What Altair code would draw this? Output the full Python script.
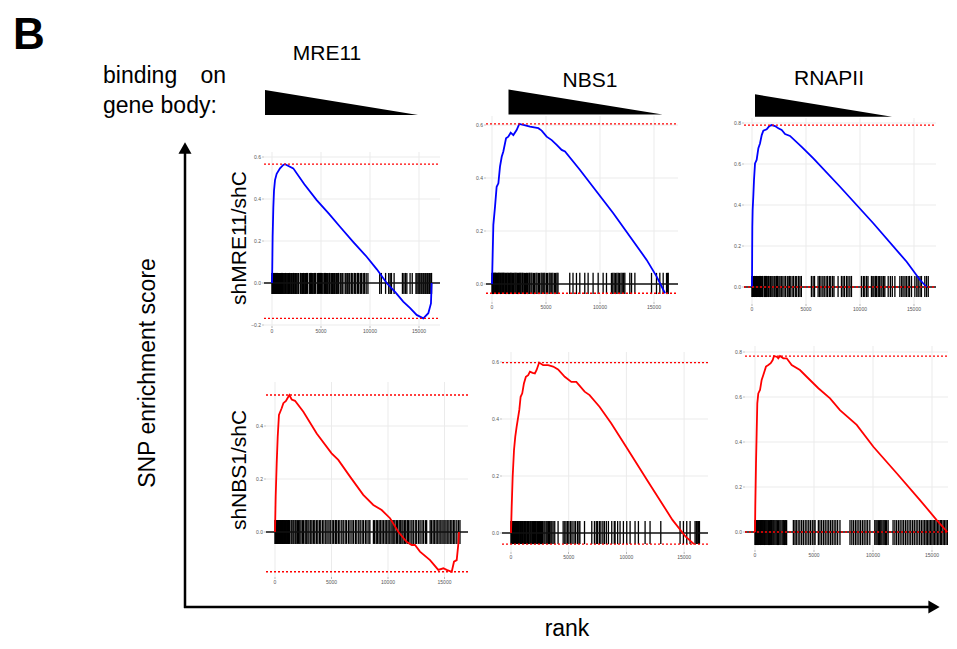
import altair as alt
import pandas as pd

W, H = 941, 633
M = 8  # page margin
FONT = "Liberation Sans"

# ------------------------------------------------------------------ data
XTICKS = [0, 5000, 10000, 15000]
COL_LABELS = ["MRE11", "NBS1", "RNAPII"]
ROW_LABELS = ["shMRE11/shC", "shNBS1/shC"]
HEADER_LINES = ["binding", "on", "gene body:"]
AXIS_LABELS = ["SNP enrichment score", "rank"]
PANEL_LETTER = ["B"]

# shMRE11/shC, MRE11
P1_RANK = [0, 30, 65, 136, 204, 306, 476, 816, 1150, 1330, 2170, 3300, 4560, 5800, 6940, 8300, 9660,
           10700, 11700, 12600, 13390, 14100, 14760, 15440, 15950, 16220, 16290]
P1_ES = [0, 0.08, 0.22, 0.36, 0.44, 0.49, 0.52, 0.546, 0.562, 0.566, 0.546, 0.47, 0.395, 0.33, 0.268,
         0.195, 0.125, 0.065, 0.0, -0.045, -0.089, -0.12, -0.152, -0.168, -0.144, -0.097, 0.0]
P1_HITS = [0, 35, 70, 110, 150, 190, 240, 280, 330, 370, 420, 470, 520, 570, 630, 680, 740, 790, 850, 910,
           960, 1020, 1080, 1150, 1230, 1300, 1390, 1450, 1540, 1610, 1700, 1790, 1850, 1940, 2010, 2120,
           2190, 2270, 2380, 2450, 2530, 2640, 2720, 2900, 2970, 3060, 3130, 3210, 3290, 3390, 3440, 3530,
           3610, 3800, 3880, 3940, 4030, 4110, 4190, 4290, 4340, 4430, 4610, 4670, 4760, 4840, 4960, 5040,
           5130, 5290, 5370, 5460, 5540, 5630, 5690, 5810, 5870, 6010, 6090, 6190, 6250, 6360, 6440, 6560,
           6610, 6710, 6790, 6960, 7040, 7160, 7240, 7460, 7540, 7660, 7740, 7860, 7940, 8110, 8240, 8410,
           8540, 8710, 8840, 9010, 9140, 9310, 9440, 9610, 9790, 10990, 11160, 11590, 11910, 12060, 12190,
           12460, 13310, 13460, 13610, 13760, 14090, 14310, 14690, 14790, 14910, 15010, 15090, 15210, 15290,
           15410, 15490, 15610, 15690, 15810, 15890, 16010, 16090, 16210, 16280]
P1_YTICKS = [-0.2, 0.0, 0.2, 0.4, 0.6]

# shMRE11/shC, NBS1
P2_RANK = [0, 125, 280, 430, 590, 740, 900, 1050, 1300, 1510, 1730, 1975, 2280, 2530, 2900, 3520, 4290,
           4600, 5060, 5530, 5990, 6450, 6760, 8150, 11230, 14320, 15250, 16020]
P2_ES = [0, 0.223, 0.292, 0.367, 0.38, 0.443, 0.48, 0.5, 0.55, 0.556, 0.571, 0.562, 0.581, 0.604, 0.6,
         0.594, 0.588, 0.579, 0.556, 0.543, 0.525, 0.506, 0.5, 0.43, 0.267, 0.091, 0.028, -0.035]
P2_HITS = [0, 45, 95, 150, 195, 260, 310, 380, 430, 500, 550, 620, 670, 740, 800, 850, 920, 990, 1050,
           1110, 1190, 1250, 1330, 1390, 1470, 1530, 1610, 1690, 1750, 1830, 1890, 1980, 2050, 2140, 2210,
           2300, 2370, 2460, 2530, 2620, 2700, 2810, 2890, 3010, 3090, 3210, 3290, 3410, 3490, 3610, 3700,
           3830, 3930, 4070, 4170, 4310, 4410, 4550, 4650, 4790, 4890, 5040, 5140, 5290, 5390, 5530, 5640,
           5790, 5890, 6010, 6110, 7200, 7500, 7820, 8130, 8590, 8900, 9360, 9830, 10290, 10600, 11060,
           11180, 11310, 11430, 11560, 11690, 11800, 11940, 12060, 12190, 12300, 12760, 12920, 13230,
           14770, 15230, 15540, 15850, 16160, 16250, 16320]
P2_YTICKS = [0.0, 0.2, 0.4, 0.6]

# shMRE11/shC, RNAPII
P3_RANK = [0, 15, 30, 60, 120, 185, 280, 430, 590, 740, 900, 1050, 1360, 1600, 1820, 2130, 2440, 2750,
           3060, 3520, 4600, 5680, 8150, 11230, 14320, 15560, 16170]
P3_ES = [0, 0.164, 0.294, 0.376, 0.44, 0.522, 0.603, 0.62, 0.677, 0.7, 0.741, 0.762, 0.769, 0.785, 0.79,
         0.785, 0.774, 0.766, 0.746, 0.737, 0.684, 0.628, 0.489, 0.311, 0.123, 0.034, 0.0]
P3_HITS = [0, 35, 75, 115, 160, 200, 245, 290, 340, 385, 430, 480, 530, 580, 630, 690, 740, 800, 850, 910,
           960, 1020, 1170, 1260, 1340, 1460, 1540, 1660, 1730, 1840, 1940, 2060, 2140, 2270, 2360, 2490,
           2590, 2710, 2790, 2960, 3090, 3260, 3340, 3460, 3540, 3710, 3840, 4010, 4140, 4310, 4440, 4570,
           5500, 5660, 5790, 6120, 6260, 6390, 6560, 6690, 6860, 6990, 7160, 7290, 7460, 7590, 7970, 8280,
           8430, 8570, 8760, 8890, 9060, 9210, 10130, 10310, 10440, 10610, 10740, 11060, 11190, 11290,
           11430, 11540, 11690, 11790, 11940, 12040, 12190, 12300, 12610, 12810, 12990, 13230, 13690,
           13860, 13990, 14160, 14290, 14460, 14590, 14770, 15080, 15260, 15390, 15560, 15690, 16000,
           16160, 16320]
P3_YTICKS = [0.0, 0.2, 0.4, 0.6, 0.8]

# shNBS1/shC, MRE11
P4_RANK = [0, 60, 150, 240, 350, 590, 740, 970, 1090, 1270, 1480, 1770, 2510, 3690, 5010, 5600, 6640,
           7810, 8700, 9440, 10180, 10910, 11650, 12100, 12390, 12830, 13720, 14450, 14900, 15190, 15640,
           15840, 16080, 16230, 16280]
P4_ES = [0, 0.133, 0.259, 0.36, 0.442, 0.467, 0.486, 0.495, 0.504, 0.517, 0.5, 0.495, 0.454, 0.372,
         0.297, 0.272, 0.209, 0.14, 0.102, 0.083, 0.052, 0.001, -0.037, -0.049, -0.049, -0.074, -0.106,
         -0.143, -0.137, -0.143, -0.15, -0.112, -0.106, -0.043, 0.0]
P4_HITS = [0, 40, 85, 125, 165, 210, 250, 300, 345, 390, 440, 490, 530, 580, 630, 680, 730, 780, 830, 880,
           930, 990, 1040, 1100, 1150, 1210, 1270, 1330, 1480, 1590, 1670, 1790, 1870, 1990, 2070, 2190,
           2300, 2430, 2530, 2670, 2770, 2910, 3010, 3160, 3270, 3410, 3520, 3670, 3790, 3940, 4050, 4210,
           4330, 4490, 4610, 4770, 4890, 5060, 5190, 5340, 5460, 5610, 5740, 5910, 6040, 6210, 6340, 6510,
           6640, 6810, 6940, 7110, 7240, 7410, 7540, 7710, 7840, 8010, 8140, 8310, 8400, 8710, 8810, 8960,
           9070, 9210, 9320, 9470, 9590, 9740, 9850, 10000, 10110, 10260, 10370, 10510, 10610, 10750,
           10850, 10990, 11090, 11230, 11330, 11470, 11570, 11710, 11810, 11950, 12110, 12240, 12410,
           12540, 12710, 12840, 13010, 13140, 13310, 13420, 13730, 13840, 13990, 14100, 14250, 14360,
           14510, 14620, 14770, 14880, 15030, 15140, 15290, 15400, 15550, 15660, 15810, 15920, 16090,
           16240, 16370]
P4_YTICKS = [0.0, 0.2, 0.4]

# shNBS1/shC, NBS1
P5_RANK = [0, 60, 145, 260, 370, 490, 720, 835, 975, 1120, 1290, 1490, 1640, 1870, 2070, 2220, 2440,
           2785, 3220, 3650, 4080, 4660, 5230, 5660, 6380, 6810, 7670, 8680, 9975, 11980, 13990, 15140,
           15860]
P5_ES = [0, 0.092, 0.198, 0.291, 0.338, 0.373, 0.432, 0.478, 0.49, 0.525, 0.548, 0.554, 0.566, 0.562,
         0.56, 0.572, 0.598, 0.589, 0.589, 0.584, 0.574, 0.548, 0.53, 0.53, 0.496, 0.484, 0.443, 0.385,
         0.303, 0.174, 0.046, -0.013, -0.039]
P5_HITS = [0, 40, 75, 120, 155, 200, 235, 280, 315, 360, 395, 450, 490, 550, 590, 650, 690, 760, 810, 880,
           930, 1000, 1050, 1120, 1170, 1240, 1290, 1370, 1430, 1510, 1570, 1650, 1710, 1800, 1870, 1960,
           2030, 2120, 2190, 2300, 2390, 2480, 2550, 2650, 2740, 2850, 2940, 3050, 3140, 3250, 3340, 3450,
           3540, 3650, 3790, 4080, 4520, 4660, 4770, 4910, 5020, 5170, 5290, 5460, 5590, 5760, 5890, 5970,
           6370, 7000, 7230, 7390, 7510, 7670, 7790, 7960, 8090, 8260, 8440, 8730, 8950, 9020, 9240, 9450,
           9740, 10030, 10320, 10750, 11040, 11620, 12050, 12980, 14650, 14940, 15230, 15520, 15950,
           16060, 16140, 16250, 16330]
P5_YTICKS = [0.0, 0.2, 0.4, 0.6]

# shNBS1/shC, RNAPII
P6_RANK = [0, 25, 85, 140, 195, 280, 425, 565, 705, 930, 1130, 1330, 1500, 1610, 1840, 1975, 2120, 2400,
           2685, 3110, 3810, 4380, 5370, 6360, 7200, 8620, 10030, 12010, 13980, 15400, 16300]
P6_ES = [0, 0.112, 0.305, 0.439, 0.572, 0.616, 0.631, 0.676, 0.698, 0.735, 0.742, 0.75, 0.764, 0.782,
         0.779, 0.772, 0.782, 0.772, 0.772, 0.742, 0.72, 0.69, 0.639, 0.594, 0.542, 0.476, 0.379, 0.261,
         0.142, 0.053, 0.0]
P6_HITS = [0, 40, 85, 120, 165, 200, 255, 300, 355, 400, 455, 500, 565, 620, 685, 740, 805, 870, 945,
           1010, 1085, 1150, 1225, 1300, 1385, 1460, 1545, 1620, 1705, 1800, 1905, 2000, 2105, 2200, 2305,
           2400, 2505, 2600, 2680, 3250, 3385, 3500, 3655, 3800, 3955, 4100, 4255, 4400, 4555, 4700, 4855,
           5000, 5090, 5370, 5505, 5650, 5805, 5950, 6105, 6250, 6405, 6550, 6705, 6850, 7005, 7200, 8050,
           8205, 8350, 8505, 8650, 8805, 8950, 9105, 9250, 9405, 9550, 9730, 10150, 10255, 10350, 10455,
           10550, 10655, 10750, 10855, 10950, 11055, 11150, 11280, 11700, 11855, 12000, 12155, 12300,
           12455, 12600, 12755, 12900, 13055, 13200, 13355, 13500, 13655, 13800, 13955, 14100, 14240,
           14380, 14505, 14620, 14745, 14860, 14985, 15100, 15225, 15340, 15465, 15580, 15705, 15820,
           15945, 16060, 16185, 16300]
P6_YTICKS = [0.0, 0.2, 0.4, 0.6, 0.8]

# ------------------------------------------------------------------ layout (page pixels)
# box = (left, right, top, bottom); x0/y0 = pixel of rank 0 / ES 0; kx, ky = pixels per unit
LAYOUT = [
    dict(box=(264, 440, 152, 326), x0=272, kx=49 / 5000, y0=283, ky=210, hit=(0.048, -0.052)),
    dict(box=(486, 678, 116, 302), x0=492, kx=54 / 5000, y0=284, ky=265, hit=(0.042, -0.038)),
    dict(box=(744, 936, 118, 304), x0=752, kx=54 / 5000, y0=287, ky=205, hit=(0.054, -0.049)),
    dict(box=(266, 468, 382, 577), x0=275, kx=56.5 / 5000, y0=532, ky=265, hit=(0.045, -0.045)),
    dict(box=(502, 708, 352, 552), x0=511, kx=57.7 / 5000, y0=533, ky=285, hit=(0.042, -0.039)),
    dict(box=(745, 948, 346, 550), x0=755, kx=59 / 5000, y0=532, ky=225, hit=(0.053, -0.058)),
]
BLUE, RED = "#0000ff", "#ff0000"
TICK_GRAY = "#555555"


def panel(rank, es, hits, yticks, color, lay):
    left, right, top, bottom = lay["box"]
    xdom = [(left - lay["x0"]) / lay["kx"], (right - lay["x0"]) / lay["kx"]]
    ydom = [(lay["y0"] - bottom) / lay["ky"], (lay["y0"] - top) / lay["ky"]]
    xs = alt.Scale(domain=xdom, range=[left - M, right - M], nice=False, zero=False)
    ys = alt.Scale(domain=ydom, range=[bottom - M, top - M], nice=False, zero=False)

    def X(f):
        return alt.X(f, scale=xs, axis=None)

    def Y(f):
        return alt.Y(f, scale=ys, axis=None)

    xleft = alt.XDatum(xdom[0], scale=xs, axis=None)
    ybot = alt.YDatum(ydom[0], scale=ys, axis=None)

    gx = alt.Chart(pd.DataFrame({"t": XTICKS})).mark_rule(color="#ebebeb", strokeWidth=1).encode(
        x=X("t:Q"), y=ybot, y2=alt.Y2Datum(ydom[1]))
    gy = alt.Chart(pd.DataFrame({"t": yticks})).mark_rule(color="#ebebeb", strokeWidth=1).encode(
        y=Y("t:Q"), x=xleft, x2=alt.X2Datum(xdom[1]))
    # tick marks + tick labels (drawn through the panel scales)
    xt = alt.Chart(pd.DataFrame({"t": XTICKS})).mark_tick(
        color=TICK_GRAY, size=2, thickness=0.6, orient="vertical", yOffset=1).encode(
        x=X("t:Q"), y=ybot)
    xl = alt.Chart(pd.DataFrame({"t": XTICKS})).mark_text(
        font=FONT, fontSize=5, color=TICK_GRAY, baseline="top", dy=3).encode(
        x=X("t:Q"), y=ybot, text=alt.Text("t:Q", format="d"))
    yt = alt.Chart(pd.DataFrame({"t": yticks})).mark_tick(
        color=TICK_GRAY, size=2, thickness=0.6, orient="horizontal", xOffset=-1).encode(
        y=Y("t:Q"), x=xleft)
    yl = alt.Chart(pd.DataFrame({"t": yticks})).mark_text(
        font=FONT, fontSize=5, color=TICK_GRAY, align="right", baseline="middle", dx=-3).encode(
        y=Y("t:Q"), x=xleft, text=alt.Text("t:Q", format=".1f"))

    hit = alt.Chart(pd.DataFrame({"r": hits})).mark_rule(color="black", strokeWidth=1.3).encode(
        x=X("r:Q"), y=alt.YDatum(lay["hit"][1], scale=ys, axis=None), y2=alt.Y2Datum(lay["hit"][0]))
    zero = alt.Chart(pd.DataFrame({"v": [0.0]})).mark_rule(color="#111111", strokeWidth=1.6).encode(
        y=Y("v:Q"), x=xleft, x2=alt.X2Datum(xdom[1]))
    curve = alt.Chart(pd.DataFrame({"rank": rank, "es": es})).mark_line(
        color=color, strokeWidth=1.8).encode(x=X("rank:Q"), y=Y("es:Q"))
    extremes = alt.Chart(pd.DataFrame({"v": [max(es), min(es)]})).mark_rule(
        color=RED, strokeWidth=1.3, strokeDash=[2, 2]).encode(
        y=Y("v:Q"), x=xleft, x2=alt.X2Datum(xdom[1]))
    return alt.layer(gx, gy, xt, xl, yt, yl, hit, zero, curve, extremes)


def txt(s, x, y, size, align="center", baseline="alphabetic", angle=0, weight="normal"):
    return alt.Chart(pd.DataFrame({"label": [s]})).mark_text(
        font=FONT, fontSize=size, align=align, baseline=baseline, angle=angle,
        fontWeight=weight, color="black").encode(
        text="label:N", x=alt.value(x - M), y=alt.value(y - M))


WEDGE = "M-1,-0.163L1,0.163L-1,0.163Z"


def wedge(cx, cy, width):
    return alt.Chart(pd.DataFrame({"a": [0]})).mark_point(
        shape=WEDGE, filled=True, size=width * width, color="black", opacity=1, strokeWidth=0).encode(
        x=alt.value(cx - M), y=alt.value(cy - M))


def head(shape, cx, cy):
    return alt.Chart(pd.DataFrame({"a": [0]})).mark_point(
        shape=shape, filled=True, size=170, color="black", opacity=1, strokeWidth=0).encode(
        x=alt.value(cx - M), y=alt.value(cy - M))


annot = [
    txt(PANEL_LETTER[0], 13, 49, 44, align="left", weight="bold"),
    txt(COL_LABELS[0], 327, 60, 21),
    txt(COL_LABELS[1], 590, 87, 21),
    txt(COL_LABELS[2], 829, 85, 21),
    txt(HEADER_LINES[0], 103, 83, 23, align="left"),
    txt(HEADER_LINES[1], 226, 83, 23, align="right"),
    txt(HEADER_LINES[2], 103, 113, 23, align="left"),
    wedge(341.5, 102.5, 153),
    wedge(585.5, 102.0, 154),
    wedge(823.5, 105.5, 137),
    txt(AXIS_LABELS[0], 148, 373, 23, baseline="middle", angle=270),
    txt(AXIS_LABELS[1], 567, 641, 23, baseline="bottom"),
    txt(ROW_LABELS[0], 240, 238, 21, baseline="middle", angle=270),
    txt(ROW_LABELS[1], 240, 470, 21, baseline="middle", angle=270),
    alt.Chart(pd.DataFrame({"a": [0]})).mark_rule(color="black", strokeWidth=2.5).encode(
        x=alt.value(185 - M), y=alt.value(608 - M), y2=alt.value(150 - M)),
    alt.Chart(pd.DataFrame({"a": [0]})).mark_rule(color="black", strokeWidth=2.5).encode(
        x=alt.value(184 - M), x2=alt.value(932 - M), y=alt.value(607 - M)),
    head("triangle-up", 185, 148),
    head("triangle-right", 934, 607),
]

panels = [
    panel(P1_RANK, P1_ES, P1_HITS, P1_YTICKS, BLUE, LAYOUT[0]),
    panel(P2_RANK, P2_ES, P2_HITS, P2_YTICKS, BLUE, LAYOUT[1]),
    panel(P3_RANK, P3_ES, P3_HITS, P3_YTICKS, BLUE, LAYOUT[2]),
    panel(P4_RANK, P4_ES, P4_HITS, P4_YTICKS, RED, LAYOUT[3]),
    panel(P5_RANK, P5_ES, P5_HITS, P5_YTICKS, RED, LAYOUT[4]),
    panel(P6_RANK, P6_ES, P6_HITS, P6_YTICKS, RED, LAYOUT[5]),
]

chart = alt.layer(*panels, *annot).resolve_scale(
    x="independent", y="independent"
).properties(
    width=W, height=H, padding=0, background="white",
    autosize=alt.AutoSizeParams(type="none"),
).configure_view(strokeWidth=0)

chart.save("out.html", embed_options={"renderer": "svg", "actions": False})
